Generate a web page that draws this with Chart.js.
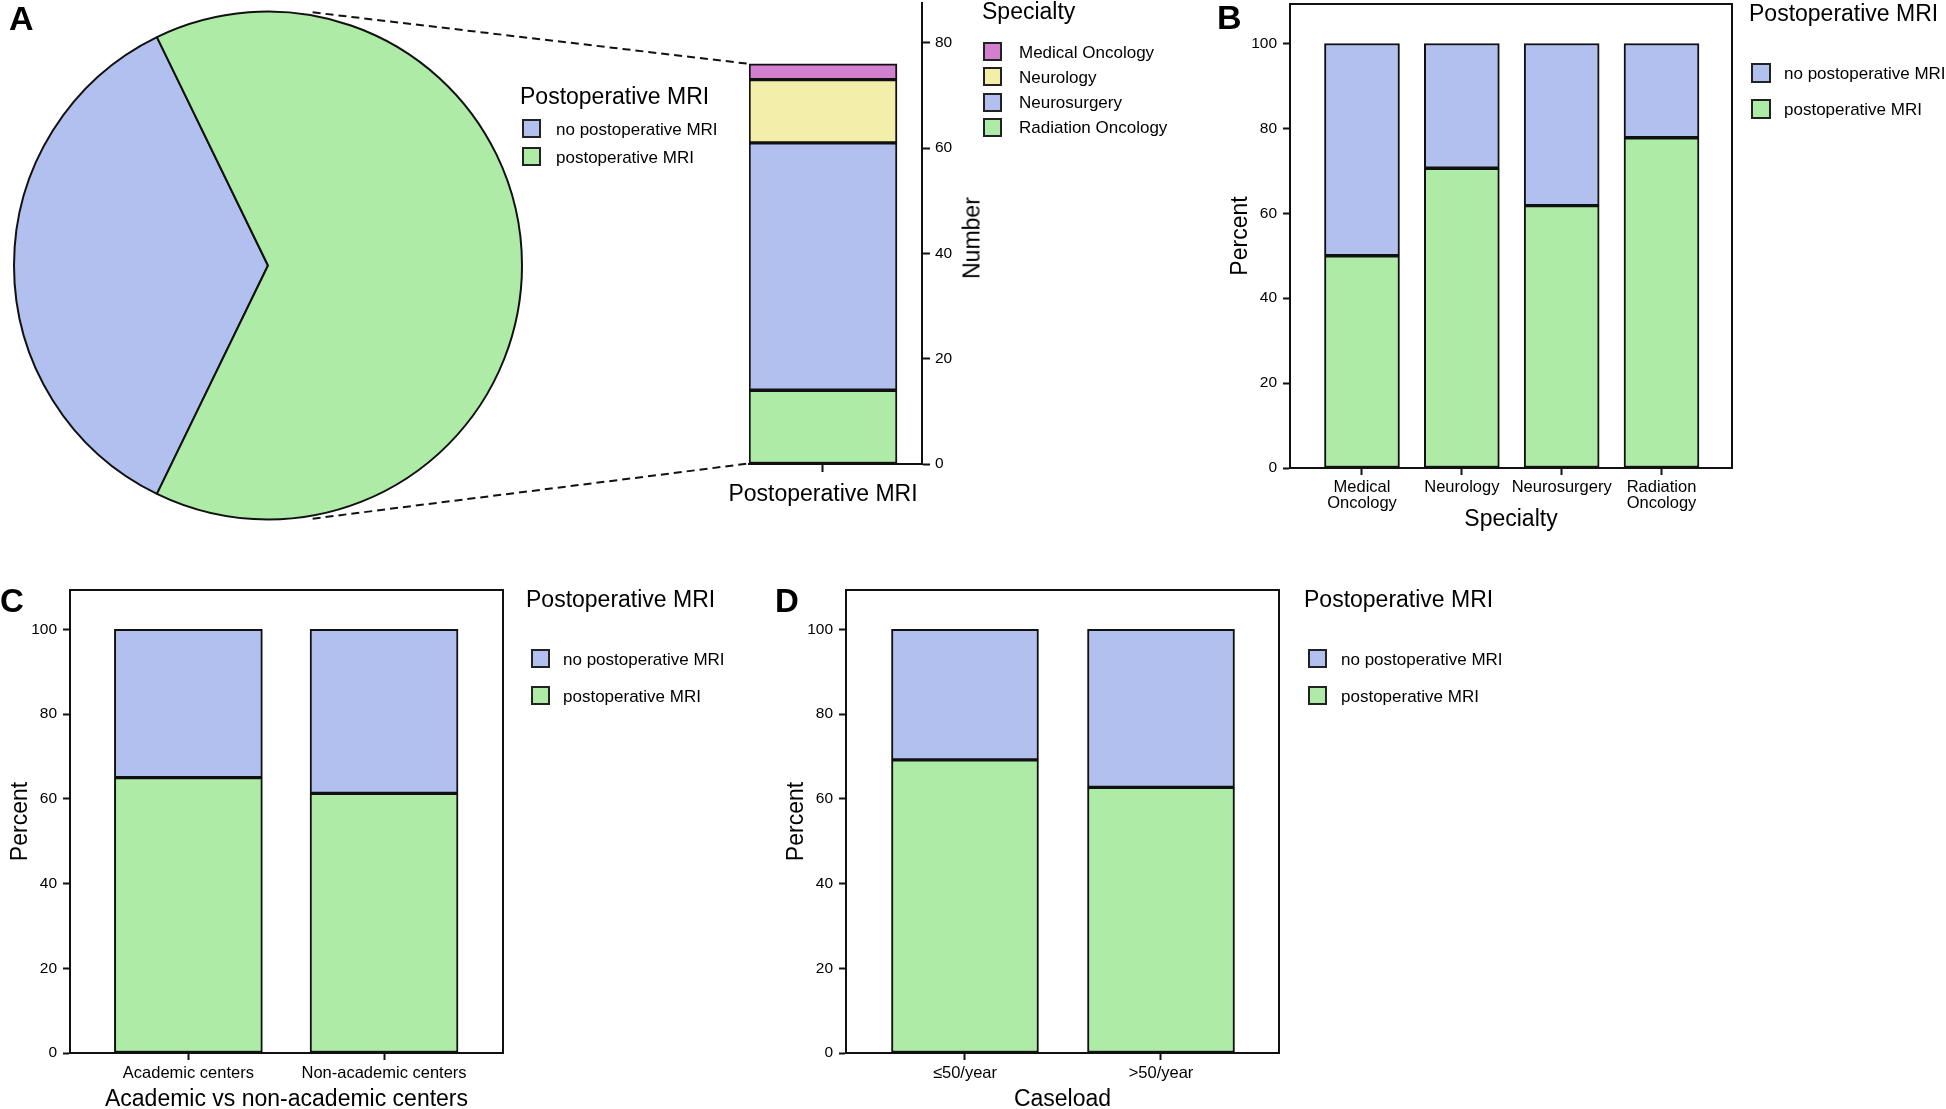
<!DOCTYPE html>
<html>
<head>
<meta charset="utf-8">
<script src="https://cdn.jsdelivr.net/npm/chart.js@4.4.1/dist/chart.umd.min.js"></script>
<style>
  html, body { margin: 0; padding: 0; background: #fff; }
  #page { position: relative; width: 1946px; height: 1109px; overflow: hidden;
          font-family: 'Liberation Sans', Arial, Helvetica, sans-serif; color: #000; }
  canvas { position: absolute; }
  .t   { position: absolute; white-space: nowrap; line-height: 1; transform: translateY(-50%); z-index: 3; }
  .box { position: absolute; box-sizing: border-box; border: 2px solid #222; z-index: 3; }
</style>
</head>
<body>
<div id="page">
  <canvas id="pieA"  width="536" height="531" style="left:0;top:0"></canvas>
  <canvas id="barA"  width="300" height="530" style="left:700px;top:0"></canvas>
  <canvas id="pctB"  width="516" height="540" style="left:1220px;top:0"></canvas>
  <canvas id="pctC"  width="507" height="545" style="left:0;top:580px"></canvas>
  <canvas id="pctD"  width="507" height="545" style="left:776px;top:580px"></canvas>
  <canvas id="links" width="1946" height="1109" style="left:0;top:0;z-index:2"></canvas>
</div>
<script>
// ── Data ────────────────────────────────────────────────────────────────
const MRI_LABELS = ['no postoperative MRI', 'postoperative MRI'];
const pieCounts  = [42, 76];                       // no MRI / MRI

const SPECIALTIES       = ['Medical Oncology', 'Neurology', 'Neurosurgery', 'Radiation Oncology'];
const postopBySpecialty = [3, 12, 47, 14];         // counts inside the "postoperative MRI" slice
const zoomCategory      = ['Postoperative MRI'];

const specialtyTicks    = [['Medical', 'Oncology'], 'Neurology', 'Neurosurgery', ['Radiation', 'Oncology']];
const specialtyNoMriPct = [50.0, 29.4, 38.2, 22.2];
const specialtyMriPct   = [50.0, 70.6, 61.8, 77.8];

const centerTicks       = ['Academic centers', 'Non-academic centers'];
const centerNoMriPct    = [35.0, 38.7];
const centerMriPct      = [65.0, 61.3];

const caseloadTicks     = ['≤50/year', '>50/year'];
const caseloadNoMriPct  = [30.8, 37.3];
const caseloadMriPct    = [69.2, 62.7];

// ── Styling ─────────────────────────────────────────────────────────────
const FONT      = "'Liberation Sans', Arial, Helvetica, sans-serif";
const BLUE      = '#B1C0EE';
const GREEN     = '#ADEBA7';
const SPEC_COLS = ['#D17FCE', '#F3EFAB', '#B1C0EE', '#ADEBA7'];
const INK       = '#111';

Chart.defaults.font.family = FONT;
Chart.defaults.color = '#000';
Chart.defaults.animation = false;
Chart.defaults.events = [];
Chart.defaults.plugins.legend.display = false;
Chart.defaults.plugins.tooltip.enabled = false;

const tickGrid   = len => ({ offset: false, drawOnChartArea: false, drawTicks: true, tickLength: len, tickWidth: 2, tickColor: INK });
const axisBorder = { display: true, color: INK, width: 2 };
const barStyle   = { borderColor: INK, borderWidth: 2, borderSkipped: false };
const asPoints   = vals => vals.map((v, i) => ({ x: i, y: v }));

// fixed axis sizes, no label overhang padding -> plot areas land where the figure has them
const fixH = h => s => { s.height = h; s.paddingLeft = 0; s.paddingRight = 0; };
const fixW = w => s => { s.width = w; s.paddingTop = 0; s.paddingBottom = 0; };

// box round the plot area (panels B–D)
const framePlugin = {
  id: 'frame',
  afterDatasetsDraw(chart) {
    const { ctx, chartArea: a } = chart;
    ctx.save();
    ctx.strokeStyle = INK; ctx.lineWidth = 2;
    ctx.strokeRect(a.left, a.top, a.right - a.left, a.bottom - a.top);
    ctx.restore();
  }
};

// ── Panel A: pie ────────────────────────────────────────────────────────
const blueDeg = 360 * pieCounts[0] / (pieCounts[0] + pieCounts[1]);
const pieChart = new Chart(document.getElementById('pieA'), {
  type: 'pie',
  data: {
    labels: MRI_LABELS,
    datasets: [{ data: pieCounts, backgroundColor: [BLUE, GREEN], borderColor: INK, borderWidth: 2 }]
  },
  options: {
    responsive: false,
    radius: 254,
    rotation: 270 - blueDeg / 2,     // centre the smaller slice on the left
    layout: { padding: 0 }
  }
});

// ── Panel A: stacked bar of the MRI slice ───────────────────────────────
const zoomChart = new Chart(document.getElementById('barA'), {
  type: 'bar',
  data: {
    datasets: SPECIALTIES.map((name, i) => ({
      label: name, data: [{ x: 0, y: postopBySpecialty[i] }], backgroundColor: SPEC_COLS[i], ...barStyle
    })).reverse()
  },
  options: {
    responsive: false,
    layout: { padding: { left: 49, top: 3.3, right: 0, bottom: 0 }, autoPadding: false },
    datasets: { bar: { barThickness: 148 } },
    scales: {
      x: { type: 'linear', stacked: true, offset: false, min: -0.5, max: 0.669,
           afterFit: fixH(66),
           afterBuildTicks: s => { s.ticks = zoomCategory.map((_, i) => ({ value: i })); },
           ticks: { callback: v => zoomCategory[v], font: { size: 23, lineHeight: 1 }, padding: 11, maxRotation: 0, autoSkip: false },
           grid: tickGrid(8), border: axisBorder },
      y: { position: 'right', stacked: true, min: 0, max: 87.5,
           afterFit: fixW(78),
           ticks: { stepSize: 20, includeBounds: false, font: { size: 15.5 }, padding: 5 },
           grid: tickGrid(8), border: axisBorder }
    }
  }
});

// ── Panels B–D: 100% stacked bars ───────────────────────────────────────
function pctChart(id, ticks, noMri, mri, cfg) {
  return new Chart(document.getElementById(id), {
    type: 'bar',
    data: {
      datasets: [
        { label: MRI_LABELS[1], data: asPoints(mri),   backgroundColor: GREEN, ...barStyle },
        { label: MRI_LABELS[0], data: asPoints(noMri), backgroundColor: BLUE,  ...barStyle }
      ]
    },
    options: {
      responsive: false,
      layout: { padding: { top: cfg.padTop, right: 4, left: 0, bottom: 0 }, autoPadding: false },
      datasets: { bar: { barThickness: cfg.barW } },
      scales: {
        x: { type: 'linear', stacked: true, offset: false, min: cfg.xMin, max: cfg.xMax,
             afterFit: fixH(cfg.xH),
             afterBuildTicks: s => { s.ticks = ticks.map((_, i) => ({ value: i })); },
             ticks: { callback: v => ticks[v], font: { size: 16.5, lineHeight: 1 }, padding: cfg.tickPad, maxRotation: 0, autoSkip: false },
             grid: tickGrid(7), border: axisBorder,
             title: { display: true, text: cfg.xTitle, font: { size: 23, lineHeight: 1.2 }, padding: { top: 0, bottom: cfg.titlePadB } } },
        y: { stacked: true, min: 0, max: 109.3,
             afterFit: fixW(70),
             ticks: { stepSize: 20, includeBounds: false, font: { size: 15.5 }, padding: 6 },
             grid: tickGrid(7), border: axisBorder,
             title: { display: true, text: 'Percent', font: { size: 23, lineHeight: 1.2 }, padding: { top: 6.5, bottom: 0 } } }
      }
    },
    plugins: [framePlugin]
  });
}

pctChart('pctB', specialtyTicks, specialtyNoMriPct, specialtyMriPct,
  { padTop: 4,  barW: 75,  xMin: -0.721, xMax: 3.706, xH: 72, tickPad: 4, titlePadB: 6.5, xTitle: 'Specialty' });
pctChart('pctC', centerTicks, centerNoMriPct, centerMriPct,
  { padTop: 10, barW: 148, xMin: -0.605, xMax: 1.608, xH: 72, tickPad: 5.5, titlePadB: 12, xTitle: 'Academic vs non-academic centers' });
pctChart('pctD', caseloadTicks, caseloadNoMriPct, caseloadMriPct,
  { padTop: 10, barW: 147, xMin: -0.607, xMax: 1.602, xH: 72, tickPad: 5.5, titlePadB: 12, xTitle: 'Caseload' });

// ── Dashed links pie -> stacked bar ─────────────────────────────────────
(function drawLinks() {
  const page = document.getElementById('page').getBoundingClientRect();
  const pr = pieChart.canvas.getBoundingClientRect();
  const br = zoomChart.canvas.getBoundingClientRect();
  const arc = pieChart.getDatasetMeta(0).data[0];
  const cx = pr.left - page.left + arc.x;
  const cy = pr.top - page.top + arc.y;
  const r  = arc.outerRadius * 1.012;
  const n  = zoomChart.data.datasets.length;
  const top = zoomChart.getDatasetMeta(n - 1).data[0];
  const bot = zoomChart.getDatasetMeta(0).data[0];
  const bx   = br.left - page.left + top.x - top.width / 2;
  const yTop = br.top - page.top + top.y;
  const yBot = br.top - page.top + bot.base;
  const a = 80 * Math.PI / 180;

  const ctx = document.getElementById('links').getContext('2d');
  ctx.strokeStyle = INK; ctx.lineWidth = 2; ctx.setLineDash([8, 5]);
  ctx.beginPath();
  ctx.moveTo(cx + r * Math.cos(a), cy - r * Math.sin(a)); ctx.lineTo(bx, yTop);
  ctx.moveTo(cx + r * Math.cos(a), cy + r * Math.sin(a)); ctx.lineTo(bx, yBot);
  ctx.stroke();
})();

// ── Text, legends, panel letters (HTML) ─────────────────────────────────
const page = document.getElementById('page');
function text(str, x, y, size, extra) {
  const d = document.createElement('div');
  d.className = 't';
  d.textContent = str;
  d.style.left = x + 'px'; d.style.top = y + 'px'; d.style.fontSize = size + 'px';
  if (extra) Object.assign(d.style, extra);
  page.appendChild(d);
  return d;
}
function box(x, y, w, h, color) {
  const d = document.createElement('div');
  d.className = 'box';
  Object.assign(d.style, { left: x + 'px', top: y + 'px', width: w + 'px', height: h + 'px', background: color });
  page.appendChild(d);
}
function legend(L, title, names, colors) {
  text(title, L.x, L.titleY, 23);
  names.forEach((name, i) => {
    const top = L.boxTop + i * L.step;
    box(L.boxX, top, L.boxW, L.boxH, colors[i]);
    text(name, L.textX, top + L.boxH / 2, 17);
  });
}

legend({ x: 520,  titleY: 96,    boxX: 522,  boxTop: 119.3, step: 28,   boxW: 19, boxH: 19,   textX: 556 },
       'Postoperative MRI', MRI_LABELS, [BLUE, GREEN]);
legend({ x: 982,  titleY: 10.5,  boxX: 983,  boxTop: 42,    step: 25.3, boxW: 19, boxH: 19,   textX: 1019 },
       'Specialty', SPECIALTIES, SPEC_COLS);
legend({ x: 1749, titleY: 12.5,  boxX: 1751, boxTop: 63.3,  step: 36,   boxW: 20, boxH: 19.5, textX: 1784 },
       'Postoperative MRI', MRI_LABELS, [BLUE, GREEN]);
legend({ x: 526,  titleY: 598.5, boxX: 531,  boxTop: 649,   step: 37,   boxW: 19, boxH: 19,   textX: 563 },
       'Postoperative MRI', MRI_LABELS, [BLUE, GREEN]);
legend({ x: 1304, titleY: 598.5, boxX: 1308, boxTop: 649,   step: 37,   boxW: 19, boxH: 19,   textX: 1341 },
       'Postoperative MRI', MRI_LABELS, [BLUE, GREEN]);

// axis title of the zoomed bar, reading bottom to top
text('Number', 972, 237.5, 23, { transform: 'translate(-50%, -50%) rotate(-90deg)' });

const bold = { fontWeight: 'bold' };
text('A', 9,    17.5, 34, bold);
text('B', 1217, 16.5, 34, bold);
text('C', 0,    600,  33, bold);
text('D', 775,  600,  33, bold);
</script>
</body>
</html>
